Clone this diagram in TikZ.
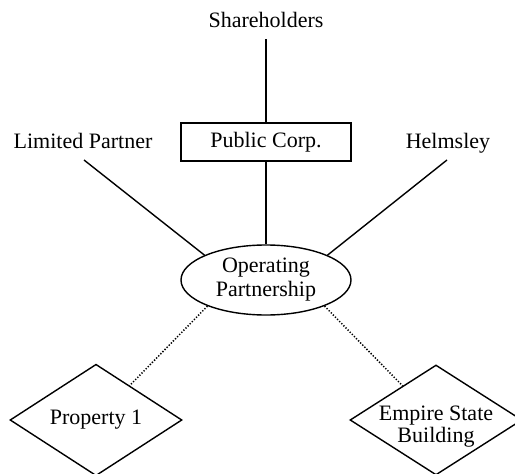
\documentclass[tikz,border=0pt]{standalone}
\usepackage{fontspec}
\setmainfont{Liberation Serif}
\usetikzlibrary{shapes.geometric,calc}
\begin{document}
\begin{tikzpicture}[x=1pt,y=-1pt,
  every node/.style={font=\fontsize{22}{25}\selectfont},
  lbl/.style={inner sep=0pt},
  pbox/.style={draw,line width=1.4pt,minimum width=170pt,minimum height=38pt,inner sep=0pt},
  pell/.style={draw,ellipse,line width=1.4pt,minimum width=170pt,minimum height=70pt,inner sep=0pt,align=center},
  pdia/.style={draw,diamond,line width=1.4pt,minimum width=172pt,minimum height=110pt,inner sep=0pt,align=center},
  link/.style={line width=1.4pt},
  dotlink/.style={line width=1.5pt,dash pattern=on 1.3pt off 1.7pt}]
\useasboundingbox (0,0) rectangle (515,474);
\node[lbl,anchor=base] (sh) at (266,27) {Shareholders};
\node[lbl,anchor=base] (lp) at (83,148) {Limited Partner};
\node[lbl,anchor=base] (hm) at (448,148) {Helmsley};
\node[pbox] (pc) at (266,142) {Public Corp.};
\node[pell] (op) at (266,280) {Operating\\[-1pt]Partnership};
\node[pdia] (p1) at (96,420) {Property 1};
\node[pdia] (esb) at (436,420) {};
\node[lbl,align=center] (esbt) at (436,427) {Empire State\\[-3pt]Building};
\coordinate (shend) at ($(sh.base)+(0,12)$);
\coordinate (lpend) at ($(lp.base)+(1,12)$);
\coordinate (hmend) at ($(hm.base)+(-1,12)$);
\draw[link] (shend) -- (pc.north);
\draw[link] (pc.south) -- (op.north);
\draw[link] (lpend) -- (op.158);
\draw[link] (hmend) -- (op.22);
\draw[dotlink] (op.204) -- (p1);
\draw[dotlink] (op.336) -- (esb);
\end{tikzpicture}
\end{document}
